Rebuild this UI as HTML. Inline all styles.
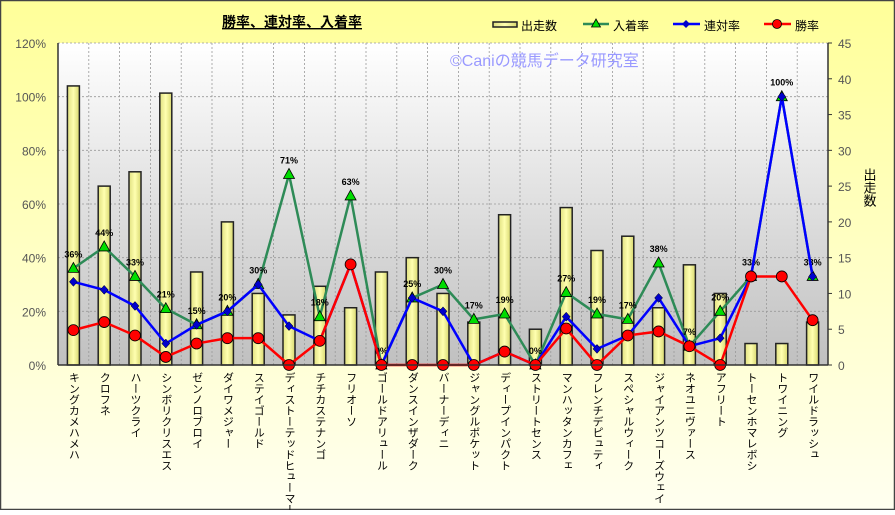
<!DOCTYPE html>
<html><head><meta charset="utf-8"><style>
body{margin:0;width:895px;height:510px;overflow:hidden;font-family:"Liberation Sans","Noto Sans CJK JP",sans-serif}
</style></head><body>
<svg id="s" width="895" height="510" xmlns="http://www.w3.org/2000/svg" font-family="Liberation Sans, Noto Sans CJK JP, sans-serif">
<defs>
<linearGradient id="bg" x1="0" y1="0" x2="0" y2="1"><stop offset="0" stop-color="#ffff99"/><stop offset="1" stop-color="#fffff0"/></linearGradient>
<linearGradient id="pa" x1="0" y1="0" x2="0" y2="1"><stop offset="0" stop-color="#ffffff"/><stop offset="1" stop-color="#c0c0c0"/></linearGradient>
<linearGradient id="bar" x1="0" y1="0" x2="1" y2="0"><stop offset="0" stop-color="#e0e080"/><stop offset="0.5" stop-color="#ffffb0"/><stop offset="1" stop-color="#d8d870"/></linearGradient>
</defs>
<rect x="0.5" y="0.5" width="894" height="509" fill="url(#bg)" stroke="#444" stroke-width="1.5"/>
<rect x="58" y="43" width="770" height="322" fill="url(#pa)"/>
<g id="g"></g>
</svg>
<script>
const g=document.getElementById('g');let h='';
const X0=58,W=770,N=25,cw=W/N,T=43,B=365;
const names=["キングカメハメハ","クロフネ","ハーツクライ","シンボリクリスエス","ゼンノロブロイ","ダイワメジャー","ステイゴールド","ディストーテッドヒューマー","チチカステナンゴ","フリオーソ","ゴールドアリュール","ダンスインザダーク","バーナーディニ","ジャングルポケット","ディープインパクト","ストリートセンス","マンハッタンカフェ","フレンチデピュティ","スペシャルウィーク","ジャイアンツコーズウェイ","ネオユニヴァース","アフリート","トーセンホマレボシ","トワイニング","ワイルドラッシュ"];
const bars=[39,25,27,38,13,20,10,7,11,8,13,15,10,6,21,5,22,16,18,8,14,10,3,3,6];
const green=[36,44,33,21,15,20,30,71,18,63,0,25,30,17,19,0,27,19,17,38,7,20,33,100,33];
const blue=[31,28,22,8,15,20,30,14.5,9,37.5,0,25,20,0,5,0,18,6,11,25,7,10,33,100,33];
const red=[13,16,11,3,8,10,10,0,9,37.5,0,0,0,0,5,0,13.6,0,11,12.5,7,0,33,33,16.7];
const cx=i=>X0+cw*(i+0.5), yp=v=>B-v*(B-T)/120, yc=v=>B-v*(B-T)/45;
for(let i=1;i<N;i++)h+=`<line x1="${X0+cw*i}" y1="${T}" x2="${X0+cw*i}" y2="${B}" stroke="#999" stroke-dasharray="2,2" stroke-width="0.8"/>`;
for(let v=20;v<=120;v+=20)h+=`<line x1="${X0}" y1="${yp(v)}" x2="${X0+W}" y2="${yp(v)}" stroke="#999" stroke-dasharray="2,2" stroke-width="0.8"/>`;
h+=`<text x="450" y="66" font-size="16" fill="#9999ff">©Caniの競馬データ研究室</text>`;
bars.forEach((b,i)=>{h+=`<rect x="${cx(i)-6}" y="${yc(b)}" width="12" height="${B-yc(b)}" fill="url(#bar)" stroke="#222" stroke-width="1.5"/>`});
const line=(d,c,w)=>`<polyline points="${d.map((v,i)=>cx(i)+','+yp(v)).join(' ')}" fill="none" stroke="${c}" stroke-width="${w}"/>`;
h+=line(green,'#2e8b57',2.5);
green.forEach((v,i)=>{const x=cx(i),y=yp(v);h+=`<polygon points="${x},${y-6} ${x-5.5},${y+4} ${x+5.5},${y+4}" fill="#00dd00" stroke="#000" stroke-width="0.8"/>`;h+=`<text x="${x}" y="${y-11}" font-size="9" font-weight="bold" text-anchor="middle">${v}%</text>`});
h+=line(blue,'#0000ff',2.5);
blue.forEach((v,i)=>{const x=cx(i),y=yp(v);h+=`<polygon points="${x},${y-4.5} ${x+4},${y} ${x},${y+4.5} ${x-4},${y}" fill="#0000cc" stroke="#000" stroke-width="0.5"/>`});
h+=line(red,'#ff0000',2.5);
red.forEach((v,i)=>{h+=`<circle cx="${cx(i)}" cy="${yp(v)}" r="5.5" fill="#ff0000" stroke="#000" stroke-width="0.8"/>`});
h+=`<line x1="${X0}" y1="${T}" x2="${X0}" y2="${B}" stroke="#333" stroke-width="1.5"/><line x1="${X0+W}" y1="${T}" x2="${X0+W}" y2="${B}" stroke="#333" stroke-width="1.5"/><line x1="${X0}" y1="${B}" x2="${X0+W}" y2="${B}" stroke="#333" stroke-width="1.5"/>`;
for(let v=0;v<=120;v+=20)h+=`<text x="46" y="${yp(v)+5}" font-size="12" fill="#555" text-anchor="end">${v}%</text>`;
for(let v=0;v<=45;v+=5){h+=`<line x1="${X0+W}" y1="${yc(v)}" x2="${X0+W+4}" y2="${yc(v)}" stroke="#333"/><text x="838" y="${yc(v)+5}" font-size="12" fill="#555">${v}</text>`}
names.forEach((n,i)=>{h+=`<text x="${cx(i)}" y="372" font-size="11" style="writing-mode:vertical-rl;glyph-orientation-vertical:0" text-anchor="start">${n}</text>`});
h+=`<text x="292" y="27" font-size="14" font-weight="bold" text-anchor="middle" text-decoration="underline">勝率、連対率、入着率</text>`;
h+=`<rect x="493" y="22" width="24" height="5" fill="url(#bar)" stroke="#222" stroke-width="1.5"/><text x="521" y="30" font-size="12">出走数</text>`;
h+=`<line x1="583" y1="24" x2="609" y2="24" stroke="#2e8b57" stroke-width="2.5"/><polygon points="596,19 591.5,27 600.5,27" fill="#00dd00" stroke="#000" stroke-width="0.8"/><text x="613" y="30" font-size="12">入着率</text>`;
h+=`<line x1="673" y1="24" x2="700" y2="24" stroke="#0000ff" stroke-width="2.5"/><polygon points="686,20 690,24 686,28 682,24" fill="#0000cc"/><text x="704" y="30" font-size="12">連対率</text>`;
h+=`<line x1="764" y1="24" x2="791" y2="24" stroke="#ff0000" stroke-width="2.5"/><circle cx="777" cy="24" r="4.5" fill="#ff0000" stroke="#000" stroke-width="0.8"/><text x="795" y="30" font-size="12">勝率</text>`;
h+=`<text x="869" y="168" font-size="13" style="writing-mode:vertical-rl">出走数</text>`;
g.innerHTML=h;
</script>
</body></html>
